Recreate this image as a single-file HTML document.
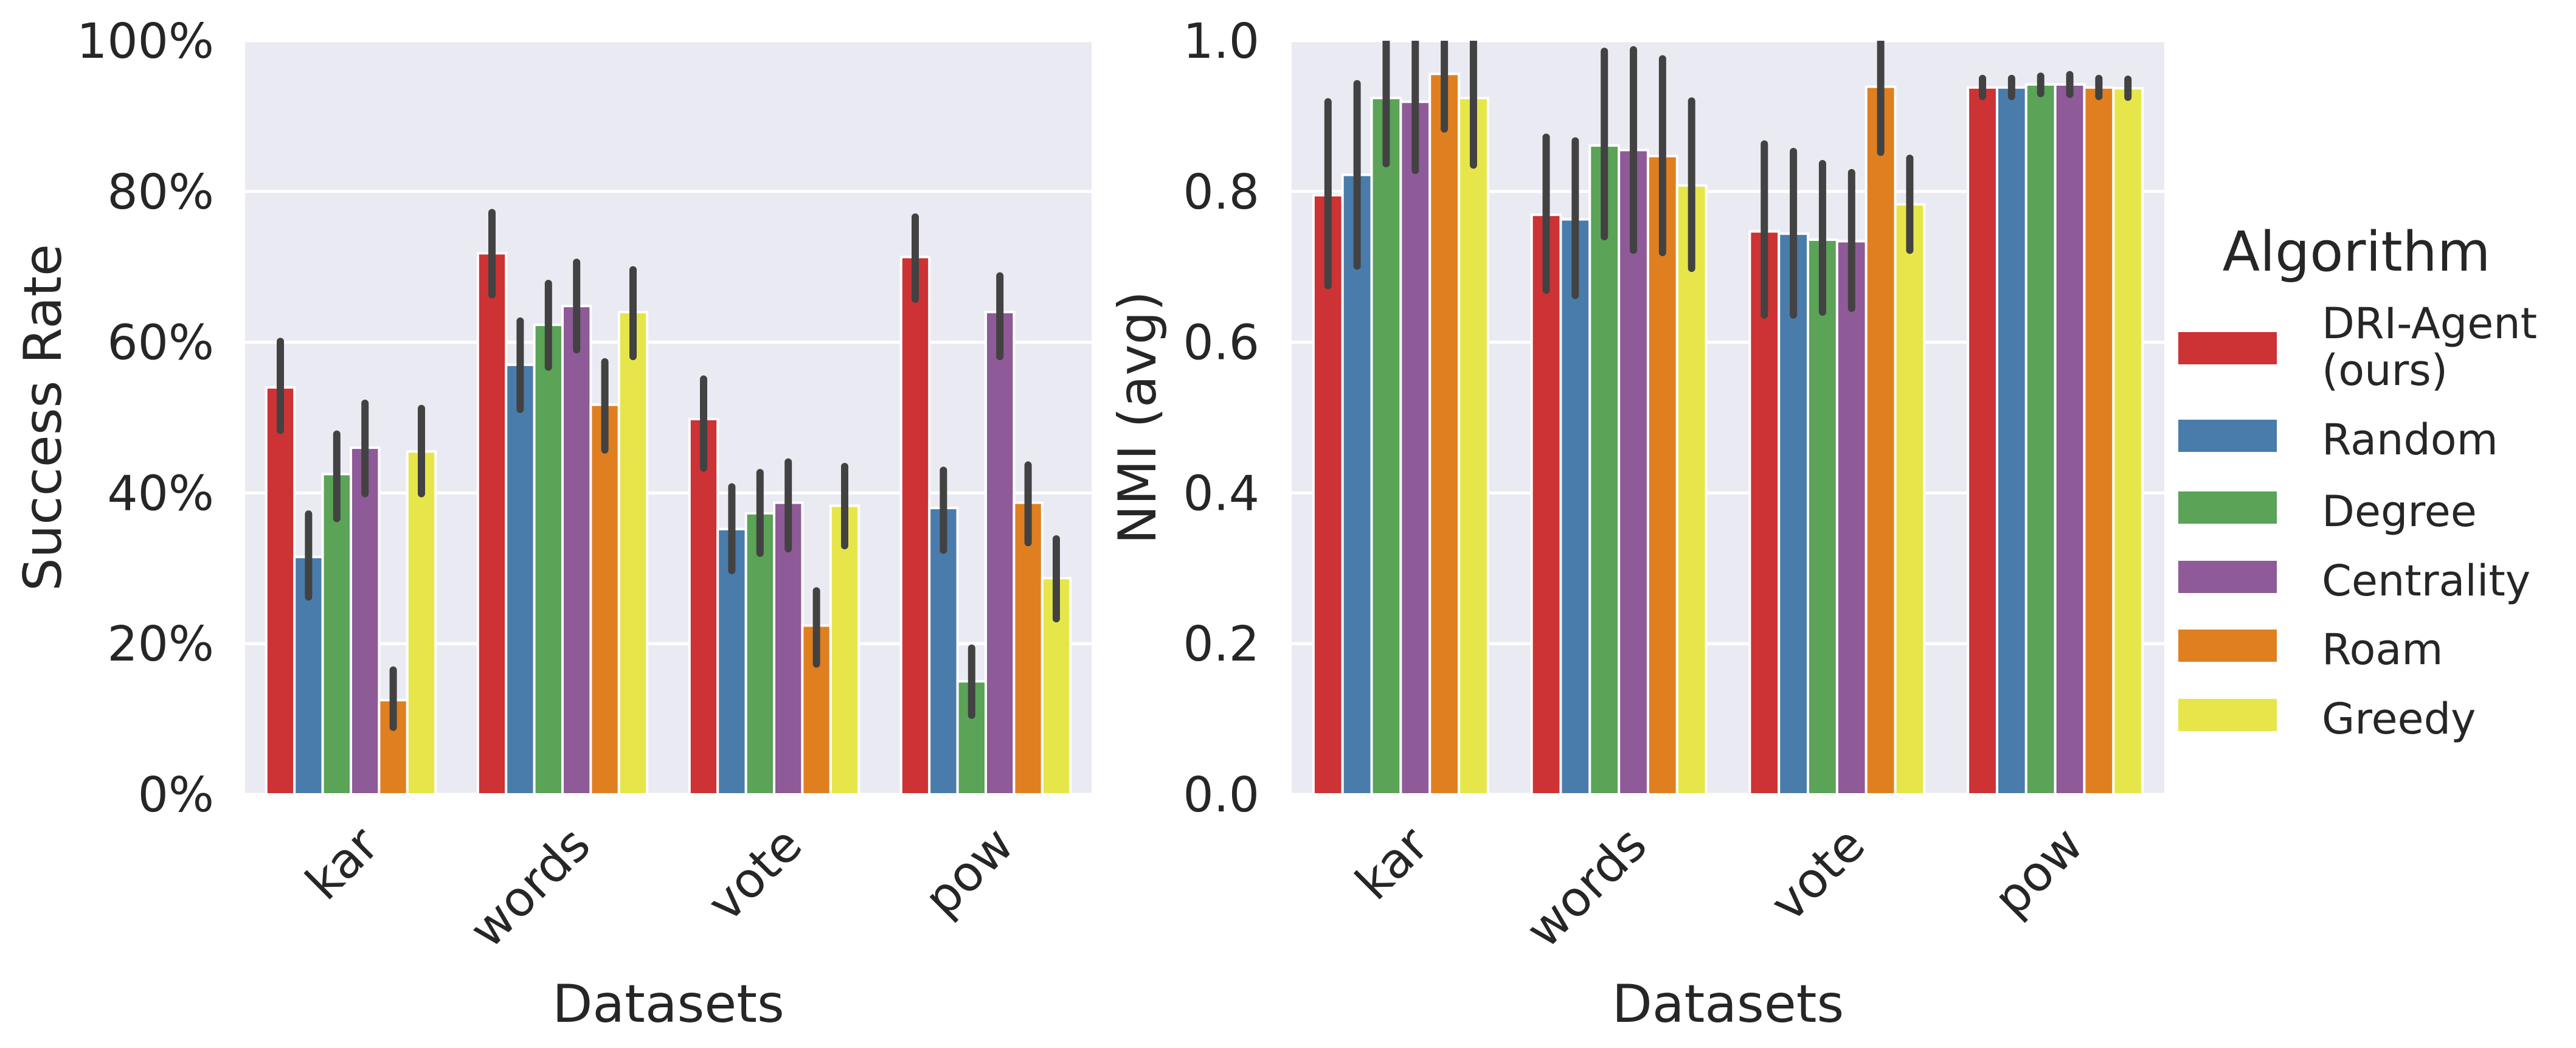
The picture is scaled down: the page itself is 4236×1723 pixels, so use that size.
<!DOCTYPE html>
<html><head><meta charset="utf-8"><style>
html,body{margin:0;padding:0;background:#fff}
svg{display:block;font-family:"DejaVu Sans","Liberation Sans",sans-serif;fill:#262626}
</style></head><body>
<svg id="chart" width="4236" height="1723" viewBox="0 0 4236 1723" xmlns="http://www.w3.org/2000/svg">
<g id="left"></g>
<g id="right"></g>
<g id="legend"></g>
</svg>
<script>
const categories = ["kar","words","vote","pow"];
const algorithms = ["DRI-Agent (ours)","Random","Degree","Centrality","Roam","Greedy"];
const colors = ["#cd3234","#497cab","#5aa357","#8f5a98","#e07f20","#e6e64a"];
// Success rate (%) per algorithm, across categories
const srMean = [[54,71.8,49.8,71.3],[31.5,57,35.2,38],[42.5,62.3,37.3,15],[46,64.8,38.7,64],[12.5,51.7,22.4,38.7],[45.5,64,38.3,28.7]];
const srLo = [[48.3,66.3,43.3,65.7],[26.2,51.1,29.7,32.4],[36.6,56.7,32,10.5],[39.9,59,32.6,58.1],[8.9,45.7,17.3,33.4],[39.9,58.1,33,23.3]];
const srHi = [[60.1,77.2,55.1,76.6],[37.2,62.8,40.8,43],[47.8,67.8,42.7,19.4],[51.9,70.6,44.1,68.8],[16.5,57.4,27,43.7],[51.2,69.6,43.5,33.9]];
const srTicks = ["0%","20%","40%","60%","80%","100%"];
const srTickVals = [0,20,40,60,80,100];
// NMI per algorithm
const nmiMean = [[0.795,0.769,0.747,0.938],[0.822,0.763,0.744,0.938],[0.924,0.861,0.736,0.942],[0.919,0.855,0.734,0.942],[0.956,0.847,0.939,0.938],[0.924,0.808,0.783,0.937]];
const nmiLo = [[0.675,0.669,0.636,0.926],[0.701,0.662,0.636,0.926],[0.837,0.740,0.640,0.930],[0.828,0.722,0.645,0.929],[0.883,0.719,0.852,0.926],[0.835,0.698,0.722,0.925]];
const nmiHi = [[0.919,0.872,0.863,0.950],[0.943,0.867,0.853,0.950],[1.02,0.986,0.837,0.953],[1.02,0.988,0.825,0.955],[1.02,0.976,1.02,0.950],[1.02,0.920,0.844,0.949]];
const nmiTicks = ["0.0","0.2","0.4","0.6","0.8","1.0"];
const nmiTickVals = [0,0.2,0.4,0.6,0.8,1.0];

const NS="http://www.w3.org/2000/svg";
function mk(parent,tag,attrs,text){const e=document.createElementNS(NS,tag);for(const k in attrs)e.setAttribute(k,attrs[k]);if(text!==undefined)e.textContent=text;parent.appendChild(e);return e;}

function drawPanel(g,x0,x1,y0,y1,vmax,mean,lo,hi,ticks,tickVals,tickRight,ylabel,ylabelX,prefix){
  const yS=v=>y0-(v/vmax)*(y0-y1);
  const band=(x1-x0)/categories.length;
  const bw=band*0.8/algorithms.length;
  const bg=mk(g,'rect',{x:x0,y:y1,width:x1-x0,height:y0-y1,fill:'#eaeaf2'});
  
  
  tickVals.forEach((v,i)=>{
    const gl=mk(g,'line',{x1:x0,x2:x1,y1:yS(v),y2:yS(v),stroke:'#fff','stroke-width':5});
    
    
    const t=mk(g,'text',{x:tickRight,y:yS(v)+28,'text-anchor':'end','font-size':79},ticks[i]);
    
    
  });
  const clipId=prefix+'clip';
  const defs=mk(g,'defs',{});
  const cp=mk(defs,'clipPath',{id:clipId});
  mk(cp,'rect',{x:x0,y:y1,width:x1-x0,height:y0-y1});
  const marks=mk(g,'g',{'clip-path':'url(#'+clipId+')'});
  categories.forEach((c,ci)=>{
    const gx=x0+ci*band+band*0.1;
    algorithms.forEach((a,ai)=>{
      const bx=gx+ai*bw;
      const r=mk(marks,'rect',{x:bx,y:yS(mean[ai][ci]),width:bw,height:y0-yS(mean[ai][ci]),fill:colors[ai],stroke:'#fff','stroke-width':4});
      
      
    });
  });
  categories.forEach((c,ci)=>{
    const gx=x0+ci*band+band*0.1;
    algorithms.forEach((a,ai)=>{
      const cx=gx+ai*bw+bw/2;
      const e=mk(marks,'line',{x1:cx,x2:cx,y1:yS(lo[ai][ci]),y2:yS(hi[ai][ci]),stroke:'#424242','stroke-width':12,'stroke-linecap':'round'});
      
      
    });
    const cx=x0+ci*band+band/2;
    const t=mk(g,'text',{x:0,y:0,'text-anchor':'end','font-size':80,transform:`translate(${cx+50},${y0+88}) rotate(-45)`},c);
    
    
  });
  const xl=mk(g,'text',{x:(x0+x1)/2,y:1680,'text-anchor':'middle','font-size':86},'Datasets');
  
  
  const yl=mk(g,'text',{x:0,y:0,'text-anchor':'middle','font-size':86,transform:`translate(${ylabelX},${(y0+y1)/2}) rotate(-90)`},ylabel);
  
  
}
drawPanel(document.getElementById('left'),403,1795,1306,67,100,srMean,srLo,srHi,srTicks,srTickVals,352,'Success Rate',100,'sr');
drawPanel(document.getElementById('right'),2124,3559,1306,67,1.0,nmiMean,nmiLo,nmiHi,nmiTicks,nmiTickVals,2071,'NMI (avg)',1900,'nmi');

const lg=document.getElementById('legend');
const tt=mk(lg,'text',{x:3875,y:445,'text-anchor':'middle','font-size':90},'Algorithm');


const patchY=[546,690,808,922,1035,1149];
algorithms.forEach((a,i)=>{
  const p=mk(lg,'rect',{x:3582,y:patchY[i],width:162,height:53,fill:colors[i]});
  
  
  if(i===0){
    const t=mk(lg,'text',{x:3818,y:556,'font-size':70},'DRI-Agent');
    
    
    mk(lg,'text',{x:3818,y:633,'font-size':70},'(ours)');
  } else {
    const t=mk(lg,'text',{x:3818,y:patchY[i]+57,'font-size':70},a);
    
    
  }
});
</script>
</body></html>
